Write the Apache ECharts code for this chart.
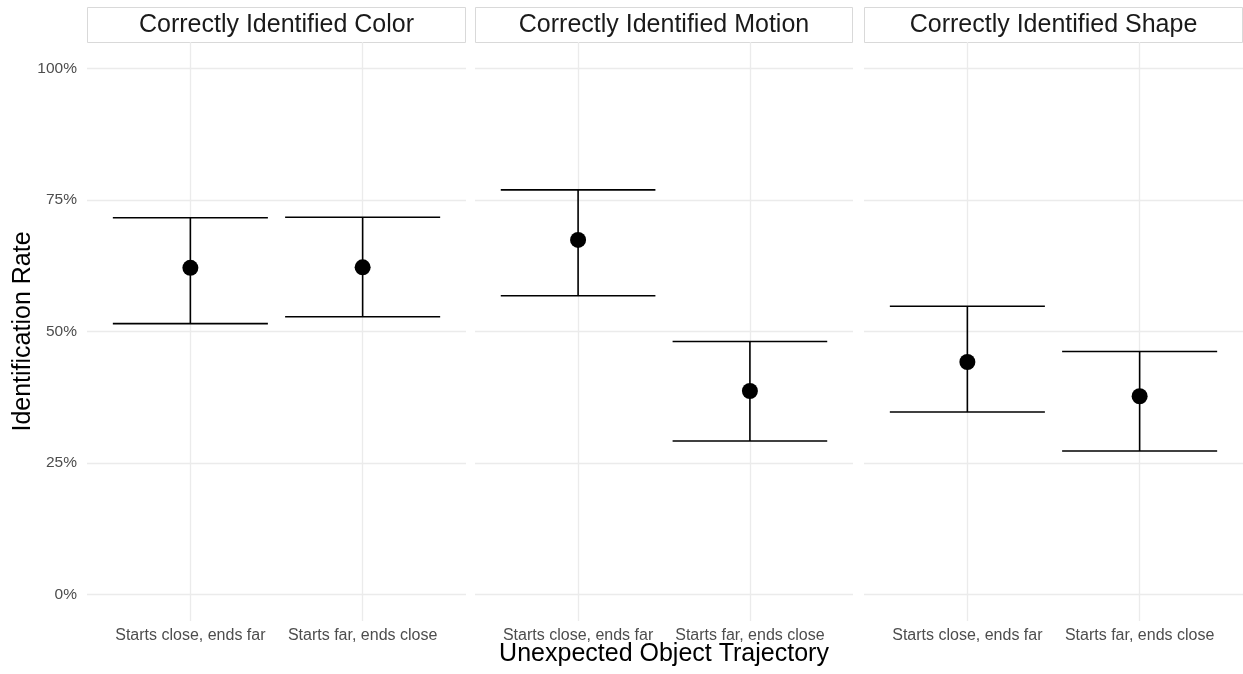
<!DOCTYPE html>
<html>
<head>
<meta charset="utf-8">
<script src="https://cdn.jsdelivr.net/npm/echarts@6/dist/echarts.min.js"></script>
<style>
  html, body { margin: 0; padding: 0; background: #fff; }
  #chart { width: 1243px; height: 674px; }
</style>
</head>
<body>
<div id="chart"></div>
<script>
// Facet titles, x categories and y ticks
const panelTitles = ['Correctly Identified Color', 'Correctly Identified Motion', 'Correctly Identified Shape'];
const trajectories = ['Starts close, ends far', 'Starts far, ends close'];
const yTicks = [0, 25, 50, 75, 100];

// Identification rate (%) per panel, per trajectory, with confidence bounds
const meanRate = [[62.1, 62.2], [67.4, 38.7], [44.2, 37.7]];
const lowerCI  = [[51.5, 52.8], [56.8, 29.2], [34.7, 27.3]];
const upperCI  = [[71.6, 71.7], [76.9, 48.1], [54.8, 46.2]];

// Layout of the three facet panels (pixels)
const panelLeft = [87, 475, 864];
const panelWidth = [379, 378, 379];
const panelTop = 42, panelBottom = 621;
const stripTop = 7;
const FONT = '"Liberation Sans", Arial, Helvetica, sans-serif';
const capHalf = 0.45;

const chart = echarts.init(document.getElementById('chart'), null, { renderer: 'canvas' });

const grids = [], xAxes = [], yAxes = [], series = [], graphics = [];

panelTitles.forEach((title, i) => {
  grids.push({
    left: panelLeft[i], top: panelTop, width: panelWidth[i],
    height: panelBottom - panelTop, containLabel: false,
    outerBoundsMode: 'none'
  });
  xAxes.push({
    type: 'value', gridIndex: i, min: 0.4, max: 2.6,
    axisLine: { show: false },
    axisTick: { show: false, customValues: [1, 2] },
    axisLabel: {
      customValues: [1, 2], margin: 7,
      color: '#4d4d4d', fontSize: 16, fontFamily: FONT,
      formatter: v => trajectories[Math.round(v) - 1]
    },
    splitLine: { show: true, lineStyle: { color: '#ebebeb', width: 1.3 } },
    name: i === 1 ? 'Unexpected Object Trajectory' : '',
    nameLocation: 'middle', nameGap: 21, nameMoveOverlap: false,
    nameTextStyle: { color: '#000', fontSize: 25, fontFamily: FONT, verticalAlign: 'top' }
  });
  yAxes.push({
    type: 'value', gridIndex: i, min: -5, max: 105,
    axisLine: { show: false },
    axisTick: { show: false, customValues: yTicks },
    axisLabel: {
      show: i === 0, customValues: yTicks, margin: 10,
      color: '#4d4d4d', fontSize: 15.5, fontFamily: FONT,
      formatter: v => v + '%'
    },
    splitLine: { show: true, lineStyle: { color: '#ebebeb', width: 1.3 } },
    name: i === 0 ? 'Identification Rate' : '',
    nameLocation: 'middle', nameGap: 51, nameMoveOverlap: false,
    nameTextStyle: { color: '#000', fontSize: 25, fontFamily: FONT }
  });

  const barData = trajectories.map((t, j) => [j + 1, lowerCI[i][j], upperCI[i][j]]);
  const pointData = trajectories.map((t, j) => [j + 1, meanRate[i][j]]);

  series.push({
    type: 'custom', xAxisIndex: i, yAxisIndex: i, z: 2,
    data: barData,
    renderItem: (params, api) => {
      const x = api.value(0), lo = api.value(1), hi = api.value(2);
      const pLo = api.coord([x, lo]), pHi = api.coord([x, hi]);
      const xl = api.coord([x - capHalf, lo])[0], xr = api.coord([x + capHalf, lo])[0];
      const style = { stroke: '#000', lineWidth: 1.6 };
      return {
        type: 'group',
        children: [
          { type: 'line', shape: { x1: pLo[0], y1: pLo[1], x2: pHi[0], y2: pHi[1] }, style },
          { type: 'line', shape: { x1: xl, y1: pHi[1], x2: xr, y2: pHi[1] }, style },
          { type: 'line', shape: { x1: xl, y1: pLo[1], x2: xr, y2: pLo[1] }, style }
        ]
      };
    }
  });
  series.push({
    type: 'scatter', xAxisIndex: i, yAxisIndex: i, z: 3,
    data: pointData, symbol: 'circle', symbolSize: 16,
    itemStyle: { color: '#000', opacity: 1 }
  });

  // Facet strip
  graphics.push({
    type: 'rect', silent: true,
    shape: { x: panelLeft[i] + 0.5, y: stripTop + 0.5, width: panelWidth[i] - 1, height: panelTop - stripTop },
    style: { fill: '#fff', stroke: '#d9d9d9', lineWidth: 1 }
  });
  graphics.push({
    type: 'text', silent: true,
    x: panelLeft[i] + panelWidth[i] / 2, y: (stripTop + panelTop) / 2 + 1,
    style: {
      text: title, fill: '#1a1a1a', font: '25px ' + FONT,
      align: 'center', verticalAlign: 'middle'
    }
  });
});

chart.setOption({
  backgroundColor: '#fff',
  animation: false,
  grid: grids,
  xAxis: xAxes,
  yAxis: yAxes,
  series: series,
  graphic: graphics
});
</script>
</body>
</html>
